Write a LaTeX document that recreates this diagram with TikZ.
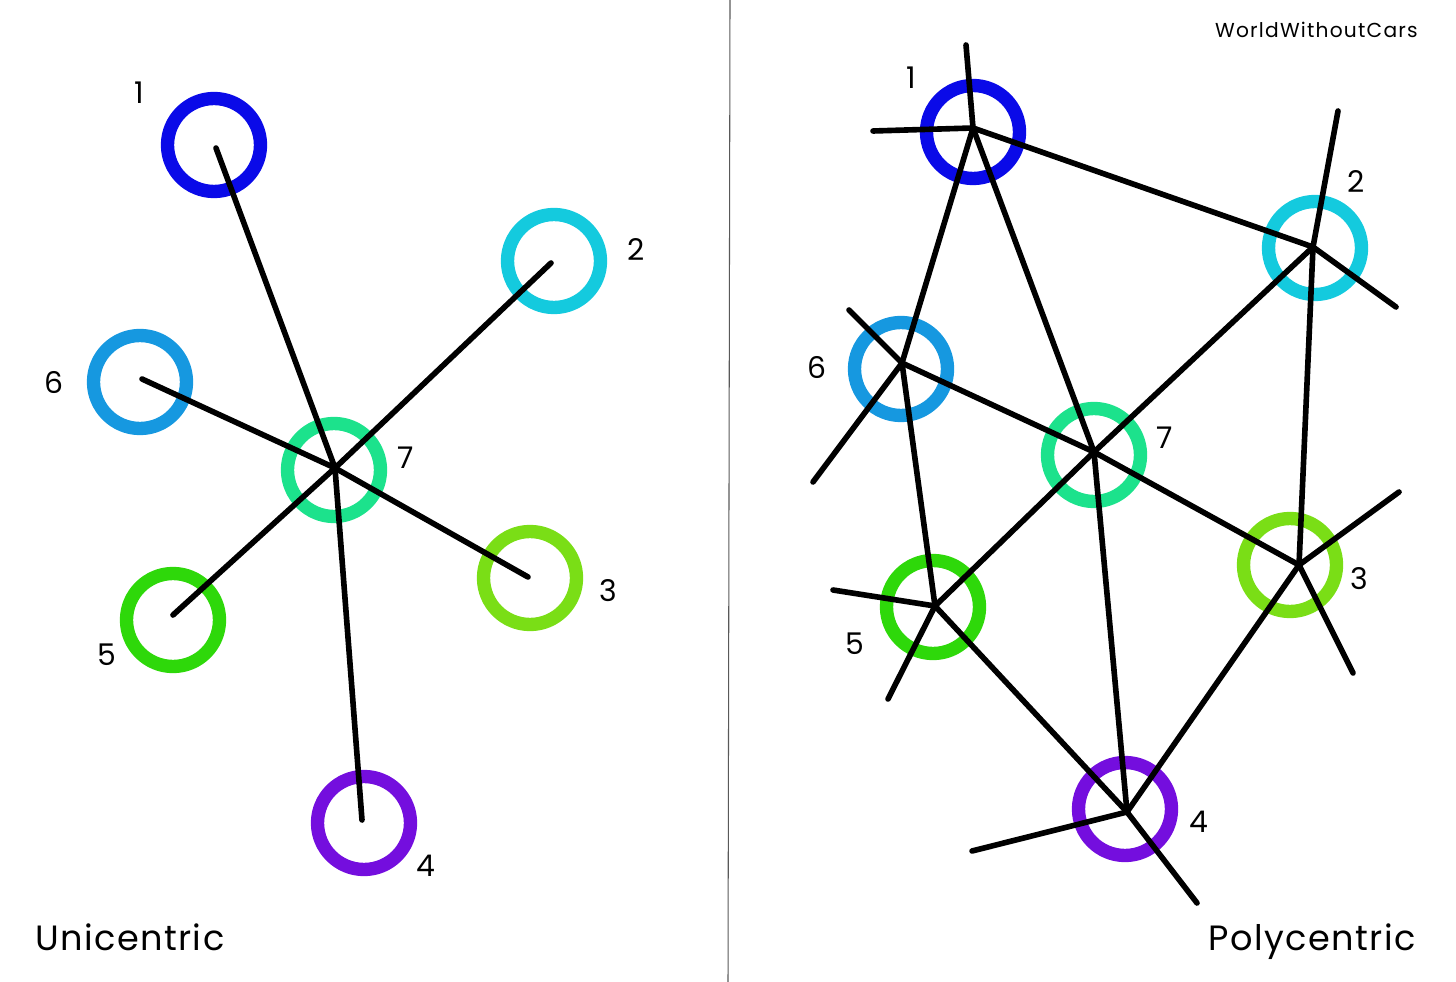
\documentclass[tikz,border=0pt]{standalone}
\usepackage{fontspec}
\setmainfont{Poppins}
\definecolor{ringone}{RGB}{10,10,232}
\definecolor{ringtwo}{RGB}{20,202,222}
\definecolor{ringsix}{RGB}{22,152,224}
\definecolor{ringseven}{RGB}{28,226,140}
\definecolor{ringthree}{RGB}{122,222,22}
\definecolor{ringfive}{RGB}{46,216,10}
\definecolor{ringfour}{RGB}{116,14,222}
\tikzset{
  ring/.style={draw, circle, line width=7.6pt, minimum size=1.86cm, inner sep=0pt},
  link/.style={line width=3.2pt, line cap=round},
  num/.style={font=\fontsize{17}{20}\selectfont, inner sep=0pt},
  title/.style={font=\fontsize{20}{24}\selectfont\addfontfeature{LetterSpace=4}, inner sep=0pt},
}
\begin{document}
\begin{tikzpicture}[x=0.02cm,y=-0.02cm]
  \useasboundingbox (0,0) rectangle (1456,982);

  % Divider
  \coordinate (D1) at (730,0);
  \coordinate (D2) at (728,982);
  \draw[gray!70!black, line width=0.6pt] (D1) -- (D2);

  % Unicentric rings
  \node[ring, draw=ringone]   (U1) at (214,145) {};
  \node[ring, draw=ringtwo]   (U2) at (554,261) {};
  \node[ring, draw=ringsix]   (U6) at (140,382) {};
  \node[ring, draw=ringseven] (U7) at (334,470) {};
  \node[ring, draw=ringthree] (U3) at (530,578) {};
  \node[ring, draw=ringfive]  (U5) at (173,620) {};
  \node[ring, draw=ringfour]  (U4) at (364,823) {};

  % Unicentric spokes
  \coordinate (UH) at (335,468);
  \coordinate (E1) at (216,148);
  \coordinate (E2) at (551,263);
  \coordinate (E6) at (142,379);
  \coordinate (E3) at (528,577);
  \coordinate (E5) at (173,615);
  \coordinate (E4) at (362,820);
  \foreach \k in {1,2,3,4,5,6}
    \draw[link] (UH) -- (E\k);

  % Unicentric labels
  \node[num] (L1) at (139,93)  {1};
  \node[num] (L2) at (636,250) {2};
  \node[num] (L6) at (54,383)  {6};
  \node[num] (L7) at (406,458) {7};
  \node[num] (L3) at (608,591) {3};
  \node[num] (L5) at (107,655) {5};
  \node[num] (L4) at (426,866) {4};
  \node[title, anchor=base west] (UT) at (35,950) {Unicentric};

  % Polycentric rings
  \node[ring, draw=ringone]   (P1) at (973,132)  {};
  \node[ring, draw=ringtwo]   (P2) at (1315,248) {};
  \node[ring, draw=ringsix]   (P6) at (901,369)  {};
  \node[ring, draw=ringseven] (P7) at (1094,455) {};
  \node[ring, draw=ringthree] (P3) at (1290,565) {};
  \node[ring, draw=ringfive]  (P5) at (933,607)  {};
  \node[ring, draw=ringfour]  (P4) at (1125,809) {};

  % Polycentric hubs
  \coordinate (H1) at (973,128);
  \coordinate (H2) at (1313,247);
  \coordinate (H6) at (902,363);
  \coordinate (H7) at (1094,452);
  \coordinate (H3) at (1299,565);
  \coordinate (H5) at (935,606);
  \coordinate (H4) at (1127,812);

  % Free ends
  \coordinate (F1a) at (966,45);   \coordinate (F1b) at (873,131);
  \coordinate (F2a) at (1338,111); \coordinate (F2b) at (1396,307);
  \coordinate (F6a) at (849,310);  \coordinate (F6b) at (813,482);
  \coordinate (F3a) at (1399,492); \coordinate (F3b) at (1353,673);
  \coordinate (F5a) at (833,590);  \coordinate (F5b) at (888,699);
  \coordinate (F4a) at (972,851);  \coordinate (F4b) at (1197,903);

  % Polycentric links
  \foreach \a/\b in {1/2,1/6,1/7,2/7,2/3,6/7,7/3,6/5,7/5,7/4,5/4,3/4}
    \draw[link] (H\a) -- (H\b);
  \foreach \a in {1,2,3,4,5,6} {
    \draw[link] (H\a) -- (F\a a);
    \draw[link] (H\a) -- (F\a b);
  }

  % Polycentric labels
  \node[num] (M1) at (911,78)   {1};
  \node[num] (M2) at (1356,182) {2};
  \node[num] (M6) at (817,368)  {6};
  \node[num] (M7) at (1165,438) {7};
  \node[num] (M3) at (1359,579) {3};
  \node[num] (M5) at (855,644)  {5};
  \node[num] (M4) at (1199,822) {4};
  \node[title, anchor=base east] (PT) at (1416,950) {Polycentric};
  \node[font=\fontsize{11.5}{13}\selectfont\addfontfeature{LetterSpace=6}, inner sep=0pt, anchor=base east] (WM) at (1418,38) {WorldWithoutCars};
\end{tikzpicture}
\end{document}
